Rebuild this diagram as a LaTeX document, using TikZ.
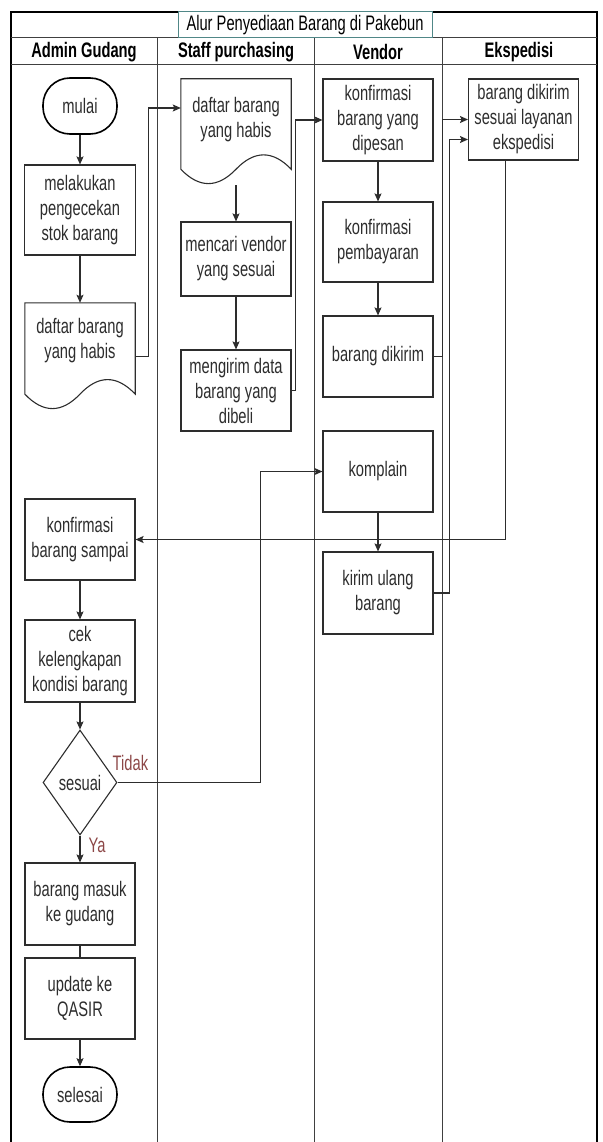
\documentclass[tikz,border=0pt]{standalone}
\usepackage{fontspec}
\setmainfont[FakeStretch=0.7]{Liberation Sans}
\usetikzlibrary{shapes.geometric,arrows.meta,calc}
\definecolor{tealline}{RGB}{80,135,135}
\definecolor{labelred}{RGB}{140,70,70}
\definecolor{inkgray}{RGB}{45,45,45}
% document outline drawn on the anchors of a named node
\newcommand\docshape[1]{%
  \draw[boxline] let \p1=(#1.north west), \p2=(#1.south east) in
    (\p1) -- (\x2,\y1) -- (\x2,{\y2+0.15*(\y1-\y2)})
    .. controls ({\x1+0.8333*(\x2-\x1)},{\y2+0.33*(\y1-\y2)}) and ({\x1+0.6667*(\x2-\x1)},{\y2+0.33*(\y1-\y2)}) .. ({\x1+0.5*(\x2-\x1)},{\y2+0.15*(\y1-\y2)})
    .. controls ({\x1+0.3333*(\x2-\x1)},{\y2-0.03*(\y1-\y2)}) and ({\x1+0.1667*(\x2-\x1)},{\y2-0.03*(\y1-\y2)}) .. (\x1,{\y2+0.15*(\y1-\y2)}) -- cycle;}
\begin{document}
\begin{tikzpicture}[x=1pt,y=-1pt,
    font=\fontsize{21pt}{25pt}\selectfont, text=inkgray,
    boxline/.style={draw=inkgray, line width=1.1pt},
    box/.style={boxline, minimum width=110pt, minimum height=81pt, align=center, inner sep=2pt},
    term/.style={draw=black, line width=1.6pt, rounded corners=27pt, minimum width=74pt, minimum height=56pt},
    docbox/.style={minimum width=110pt, inner sep=0pt},
    choice/.style={diamond, boxline, aspect=0.7, inner sep=0pt, minimum width=74pt, minimum height=105pt},
    head/.style={font=\fontsize{21pt}{25pt}\selectfont\bfseries, text=black},
    lbl/.style={text=labelred, inner sep=1pt},
    lane/.style={draw=black!75, line width=1pt},
    arr/.style={draw=inkgray, line width=1.1pt, -{Stealth[length=8pt,width=7pt,inset=1.5pt]}},
    line/.style={draw=inkgray, line width=1.1pt}]
    \useasboundingbox (0,0) rectangle (602,1142);
    % frame and lanes
    \draw[black, line width=1.4pt] (11,12) rectangle (597,1160);
    \draw[lane] (11,38) -- (597,38);
    \draw[lane] (11,65) -- (597,65);
    \draw[lane] (157,38) -- (157,1160);
    \draw[lane] (314,38) -- (314,1160);
    \draw[lane] (442,38) -- (442,1160);
    \node[draw=tealline, line width=1pt, fill=white, minimum width=254pt, minimum height=26pt, inner sep=0pt, text=black] (judul) at (305,25) {Alur Penyediaan Barang di Pakebun};
    \node[head] (hadmin) at (84,52) {Admin Gudang};
    \node[head] (hstaff) at (236,52) {Staff purchasing};
    \node[head] (hvendor) at (378,52) {Vendor};
    \node[head] (heksp) at (519,52) {Ekspedisi};
    % admin gudang
    \node[term] (mulai) at (80,106) {mulai};
    \node[box, minimum width=111pt, minimum height=90pt] (cekstok) at (80,210) {melakukan\\pengecekan\\stok barang};
    \node[docbox, minimum height=107pt] (adoc) at (80,356.5) {};
    \docshape{adoc}
    \node[align=center] (adoctxt) at ([yshift=16pt]adoc.center) {daftar barang\\yang habis};
    \node[box] (sampai) at (80,539.5) {konfirmasi\\barang sampai};
    \node[box, minimum height=82pt] (cek) at (80,661) {cek\\kelengkapan\\kondisi barang};
    \node[choice] (sesuai) at (80,782.5) {sesuai};
    \node[box, minimum height=82pt] (masuk) at (80,904) {barang masuk\\ke gudang};
    \node[box] (update) at (80,998.5) {update ke\\QASIR};
    \node[term, minimum height=55pt] (selesai) at (80,1094.5) {selesai};
    % staff purchasing
    \node[docbox, minimum height=106pt] (sdoc) at (236,132) {};
    \docshape{sdoc}
    \node[align=center] (sdoctxt) at ([yshift=12pt]sdoc.center) {daftar barang\\yang habis};
    \node[box, minimum height=74pt] (cari) at (236,259) {mencari vendor\\yang sesuai};
    \node[box] (kirim) at (236,390.5) {mengirim data\\barang yang\\dibeli};
    % vendor
    \node[box, minimum height=82pt] (konf) at (378,120) {konfirmasi\\barang yang\\dipesan};
    \node[box, minimum height=80pt] (bayar) at (378,242) {konfirmasi\\pembayaran};
    \node[box] (dikirim) at (378,356.5) {barang dikirim};
    \node[box] (komplain) at (378,471.5) {komplain};
    \node[box, minimum height=82pt] (ulang) at (378,593) {kirim ulang\\barang};
    % ekspedisi
    \node[box] (eksp) at (523.5,119.5) {barang dikirim\\sesuai layanan\\ekspedisi};
    % connectors
    \draw[arr] (mulai) -- (cekstok);
    \draw[arr] (cekstok) -- (adoc);
    \draw[arr] (adoc.east) -- ++(13,0) |- ([yshift=24pt]sdoc.west);
    \draw[arr] (sdoc) -- (cari);
    \draw[arr] (cari) -- (kirim);
    \draw[arr] (kirim.east) -- ++(4,0) |- (konf.west);
    \draw[arr] (konf) -- (bayar);
    \draw[arr] (bayar) -- (dikirim);
    \draw[arr] (dikirim.east) -- ++(9,0) |- (eksp.west);
    \draw[arr] (komplain) -- (ulang);
    \draw[arr] (ulang.east) -- ++(16,0) |- ([yshift=-20pt]eksp.west);
    \draw[arr] ([xshift=-18pt]eksp.south) |- (sampai.east);
    \draw[arr] (sampai) -- (cek);
    \draw[arr] (cek) -- (sesuai);
    \draw[arr] (sesuai.east) -- node[lbl, pos=0.09, above, yshift=10pt] {Tidak} ++(143,0) |- (komplain.west);
    \draw[arr] (sesuai) -- node[lbl, pos=0.35, right, xshift=7pt] {Ya} (masuk);
    \draw[line] (masuk) -- (update);
    \draw[arr] (update) -- (selesai);
\end{tikzpicture}
\end{document}
